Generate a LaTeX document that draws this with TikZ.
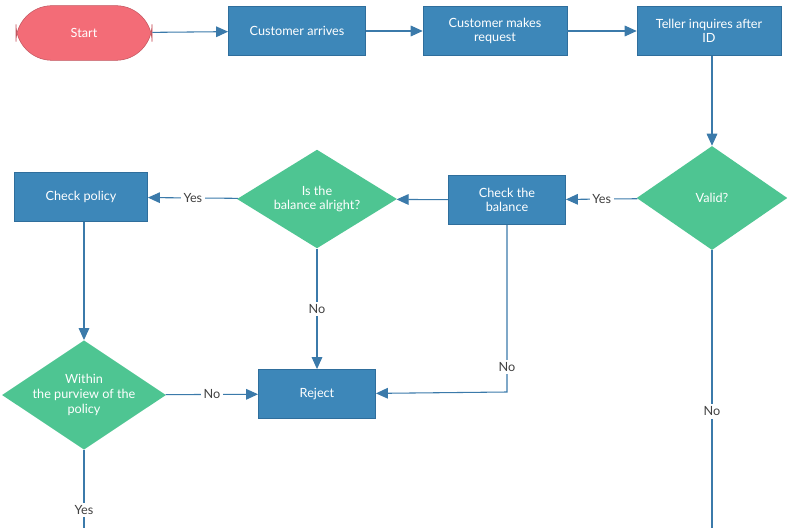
\documentclass[tikz,border=0pt]{standalone}
\usepackage{fontspec}
\setmainfont{Lato}
\usetikzlibrary{shapes.geometric,arrows.meta}
\definecolor{ccblue}{HTML}{3D87B9}
\definecolor{ccblueline}{HTML}{2F6E9C}
\definecolor{ccgreen}{HTML}{4EC592}
\definecolor{ccred}{HTML}{F36C77}
\definecolor{ccline}{HTML}{3B7AAA}
\definecolor{cctext}{HTML}{404040}
\begin{document}
\begin{tikzpicture}[x=0.75pt,y=-0.75pt,font=\fontsize{9.5}{11}\selectfont]

  % Styles
  \tikzset{
    boite/.style={draw=ccblueline, fill=ccblue, text=white, align=center, inner sep=0pt},
    losange/.style={diamond, fill=ccgreen, text=white, align=center, inner sep=0pt, aspect=1.5},
    fleche/.style={-{Triangle[length=9pt,width=8pt]}, ccline, thick},
    trait/.style={ccline, thick},
    etiq/.style={fill=white, text=cctext, inner sep=2pt}
  }

  % Cadre
  \useasboundingbox (0,0) rectangle (792,528);

  % Noeuds
  \node[draw=ccred!80!black, fill=ccred, text=white, rounded corners=27pt, minimum width=136\pgflinewidth*0+102pt, minimum height=41pt] (start) at (84,33) {Start};
  \node[boite, minimum width=103pt, minimum height=37pt] (arrive) at (297,31) {Customer arrives};
  \node[boite, minimum width=108pt, minimum height=37pt] (request) at (495,31) {Customer makes\\request};
  \node[boite, minimum width=108pt, minimum height=37pt] (teller) at (709,31) {Teller inquires after\\ID};
  \node[losange, minimum width=113pt, minimum height=78pt] (valid) at (712,198) {Valid?};
  \node[boite, minimum width=88pt, minimum height=37pt] (check) at (507,200) {Check the\\balance};
  \node[losange, minimum width=120pt, minimum height=74pt] (alright) at (317,199) {Is the\\balance alright?};
  \node[boite, minimum width=100pt, minimum height=37pt] (policy) at (81,197) {Check policy};
  \node[losange, minimum width=118pt, minimum height=74pt] (purview) at (84,395) {Within\\the purview of the\\policy};
  \node[boite, minimum width=88pt, minimum height=37pt] (reject) at (317,394) {Reject};
  \coordinate (bas1) at (84,528);
  \coordinate (bas2) at (712,528);
  \coordinate (coude) at (507,392);

  % Connecteurs
  \draw[fleche] (start) -- (arrive);
  \draw[fleche] (arrive) -- (request);
  \draw[fleche] (request) -- (teller);
  \draw[fleche] (teller.south -| valid.north) -- (valid);
  \draw[fleche] (valid) -- node[etiq]{Yes} (check);
  \draw[fleche] (check) -- (alright);
  \draw[fleche] (alright) -- node[etiq]{Yes} (policy);
  \draw[fleche] (policy.south -| purview.north) -- (purview);
  \draw[fleche] (alright) -- node[etiq]{No} (reject);
  \draw[fleche] (check) -- node[etiq, pos=0.85]{No} (coude) -- (reject);
  \draw[fleche] (purview) -- node[etiq]{No} (reject);
  \draw[trait] (purview) -- node[etiq, pos=0.77]{Yes} (bas1);
  \draw[trait] (valid) -- node[etiq, pos=0.58]{No} (bas2);

\end{tikzpicture}
\end{document}
